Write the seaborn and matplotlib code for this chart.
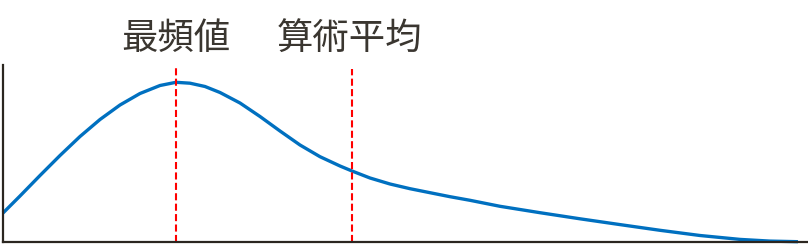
import matplotlib
matplotlib.use("Agg")
import matplotlib.pyplot as plt
import seaborn as sns
import pandas as pd

# Curve samples (x position, height above baseline)
curve_x = [3, 20, 40, 60, 80, 100, 120, 140, 160, 176, 190, 205, 220, 240, 260,
           280, 300, 320, 340, 352, 370, 390, 410, 430, 450, 470, 500, 540, 580,
           620, 660, 700, 740, 770, 798]
curve_y = [29, 46, 66.5, 86.5, 105.5, 122.5, 137, 148.5, 156.5, 159.7, 158.8,
           155.5, 149.5, 139, 125.5, 111, 97, 85.3, 76, 71, 64, 58, 53.3, 49.3,
           45.3, 41.7, 35.7, 29.3, 23.2, 17.4, 11.7, 6.5, 2.6, 0.9, 0.3]

mode_x = 176
mean_x = 352
labels = ["最頻値", "算術平均"]

sns.set_theme(style="white")
plt.rcParams["font.family"] = ["Noto Sans CJK JP", "DejaVu Sans"]

W, H = 808, 244
fig = plt.figure(figsize=(W / 100, H / 100), dpi=100)
ax = fig.add_axes([3 / W, 2 / H, 804 / W, 177 / H])

df = pd.DataFrame({"x": curve_x, "y": curve_y})
sns.lineplot(data=df, x="x", y="y", ax=ax, color="#0070c0", linewidth=2.4,
             clip_on=False, solid_capstyle="butt", solid_joinstyle="round")

ax.axvline(mode_x, ymin=0, ymax=1.0, color="#ff0000", linewidth=1.5,
           linestyle=(0, (3.4, 1.6)))
ax.axvline(mean_x, ymin=0, ymax=0.977, color="#ff0000", linewidth=1.5,
           linestyle=(0, (3.4, 1.6)))

ax.set_xlim(3, 807)
ax.set_ylim(0, 177)
ax.set_xticks([])
ax.set_yticks([])
ax.set_xlabel("")
ax.set_ylabel("")
for s in ["top", "right"]:
    ax.spines[s].set_visible(False)
for s in ["left", "bottom"]:
    ax.spines[s].set_color("#2b2620")
    ax.spines[s].set_linewidth(1.6)

fig.text(mode_x / W, 1 - 38.5 / H, labels[0], ha="center", va="center",
         fontsize=26.2, color="#3a3630")
fig.text(349 / W, 1 - 38.5 / H, labels[1], ha="center", va="center",
         fontsize=26.2, color="#3a3630")

fig.savefig("out.png", dpi=100)
